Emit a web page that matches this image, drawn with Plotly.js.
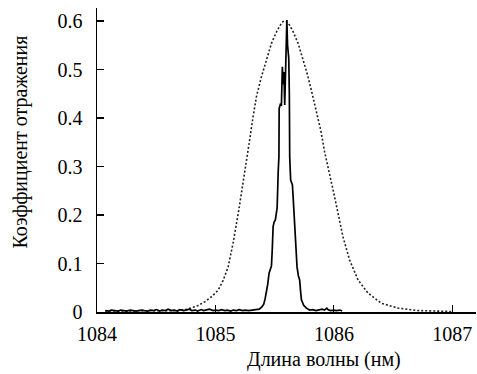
<!DOCTYPE html>
<html>
<head>
<meta charset="utf-8">
<script src="https://cdn.plot.ly/plotly-3.0.1.min.js"></script>
<style>html,body{margin:0;padding:0;background:#fff;}#chart{width:477px;height:374px;}</style>
</head>
<body>
<div id="chart"></div>
<script>
// Measured (narrow) reflection spectrum - solid line
const solidX = [1084.07,1084.10,1084.12,1084.15,1084.18,1084.20,1084.23,1084.25,1084.28,1084.30,1084.33,1084.35,1084.38,1084.40,1084.43,1084.45,1084.48,1084.50,1084.53,1084.55,1084.58,1084.60,1084.63,1084.65,1084.68,1084.70,1084.73,1084.75,1084.78,1084.80,1084.83,1084.85,1084.88,1084.90,1084.93,1084.95,1084.98,1085.00,1085.03,1085.05,1085.08,1085.10,1085.13,1085.15,1085.18,1085.20,1085.23,1085.25,1085.28,1085.30,1085.33,1085.35,
  1085.37,1085.39,1085.408,1085.42,1085.430,1085.44,1085.453,1085.465,1085.473,1085.48,1085.487,1085.495,1085.506,1085.515,1085.521,1085.53,1085.536,1085.538,1085.55,1085.557,1085.560,1085.565,1085.572,1085.578,1085.585,1085.595,1085.603,1085.609,1085.619,1085.624,1085.627,1085.635,1085.642,1085.650,1085.660,1085.669,1085.680,1085.689,1085.700,1085.711,1085.720,1085.726,1085.745,1085.768,1085.796,
  1085.82,1085.85,1085.87,1085.90,1085.92,1085.94,1085.95,1085.97,1086.00,1086.02,1086.05,1086.07];
const solidY = [0.003,0.002,0.004,0.003,0.002,0.004,0.003,0.002,0.004,0.003,0.002,0.003,0.004,0.003,0.002,0.004,0.003,0.005,0.002,0.004,0.003,0.006,0.003,0.004,0.002,0.005,0.003,0.004,0.006,0.003,0.004,0.002,0.005,0.003,0.004,0.006,0.003,0.004,0.003,0.005,0.003,0.004,0.002,0.004,0.003,0.005,0.003,0.004,0.003,0.004,0.005,0.006,
  0.006,0.010,0.016,0.028,0.039,0.055,0.080,0.090,0.095,0.130,0.176,0.185,0.190,0.205,0.215,0.290,0.320,0.420,0.430,0.425,0.485,0.506,0.470,0.495,0.427,0.550,0.602,0.550,0.524,0.450,0.320,0.272,0.268,0.262,0.220,0.176,0.130,0.093,0.075,0.066,0.040,0.025,0.014,0.008,0.004,
  0.005,0.003,0.004,0.006,0.004,0.008,0.005,0.003,0.004,0.003,0.004,0.002];

// Wide (dotted) spectrum
const dotX = [1084.07,1084.20,1084.35,1084.50,1084.60,1084.685,1084.75,1084.797,1084.85,1084.910,1084.97,1085.023,1085.065,1085.107,1085.149,1085.197,1085.234,1085.270,1085.289,1085.318,1085.346,1085.388,1085.430,1085.473,1085.510,1085.543,1085.570,1085.585,1085.600,1085.625,1085.656,1085.698,1085.740,1085.782,1085.816,1085.852,1085.889,1085.922,1085.951,1085.993,1086.035,1086.077,1086.133,1086.204,1086.288,1086.401,1086.542,1086.711,1086.85,1086.99];
const dotY = [0.002,0.002,0.002,0.002,0.002,0.003,0.005,0.008,0.013,0.021,0.032,0.045,0.065,0.093,0.142,0.210,0.265,0.325,0.355,0.403,0.444,0.485,0.520,0.554,0.575,0.590,0.599,0.600,0.599,0.592,0.578,0.554,0.520,0.485,0.451,0.416,0.375,0.330,0.300,0.252,0.204,0.155,0.107,0.066,0.039,0.018,0.008,0.003,0.002,0.001];

const xTicks = [1084,1085,1086,1087];
const yTicks = [0,0.1,0.2,0.3,0.4,0.5,0.6];
const yTickText = ['0','0.1','0.2','0.3','0.4','0.5','0.6'];
const xTitle = 'Длина волны (нм)';
const yTitle = 'Коэффициент отражения';

const FAM = 'Times New Roman';
function mkFont(){ return {family:FAM, size:20, color:'#000'}; }

function draw(){
  const traces = [
    {x: dotX, y: dotY, mode:'lines', line:{color:'#222', width:1.6, dash:'2px,2px'}, hoverinfo:'skip'},
    {x: solidX, y: solidY, mode:'lines', line:{color:'#000', width:1.7}, hoverinfo:'skip'}
  ];
  const layout = {
    width:477, height:374,
    margin:{l:97, r:1, t:8, b:62},
    showlegend:false,
    font: mkFont(),
    xaxis:{
      range:[1084,1087.2], tickvals:xTicks, ticktext:xTicks.map(String),
      ticks:'inside', ticklen:7, tickwidth:1.2, tickcolor:'#000',
      showline:true, linecolor:'#000', linewidth:1.5,
      showgrid:false, zeroline:false, tickfont:mkFont(), ticklabelstandoff:3
    },
    yaxis:{
      range:[0,0.627], tickvals:yTicks, ticktext:yTickText,
      ticks:'inside', ticklen:7, tickwidth:1.2, tickcolor:'#000',
      showline:true, linecolor:'#000', linewidth:1.5,
      showgrid:false, zeroline:false, tickfont:mkFont(), ticklabelstandoff:9
    },
    annotations:[
      {text:xTitle, xref:'paper', yref:'paper', x:(324-97)/379, y:-(359-312)/304, xanchor:'center', yanchor:'middle', showarrow:false, font:mkFont()},
      {text:yTitle, xref:'paper', yref:'paper', x:-(97-20)/379, y:(312-142.5)/304, xanchor:'center', yanchor:'middle', textangle:-90, showarrow:false, font:mkFont()}
    ]
  };
  return Plotly.newPlot('chart', traces, layout, {staticPlot:true});
}

draw();
if (document.fonts && document.fonts.load) {
  document.fonts.load('20px "' + FAM + '"').then(draw).catch(function(){});
}
</script>
</body>
</html>
